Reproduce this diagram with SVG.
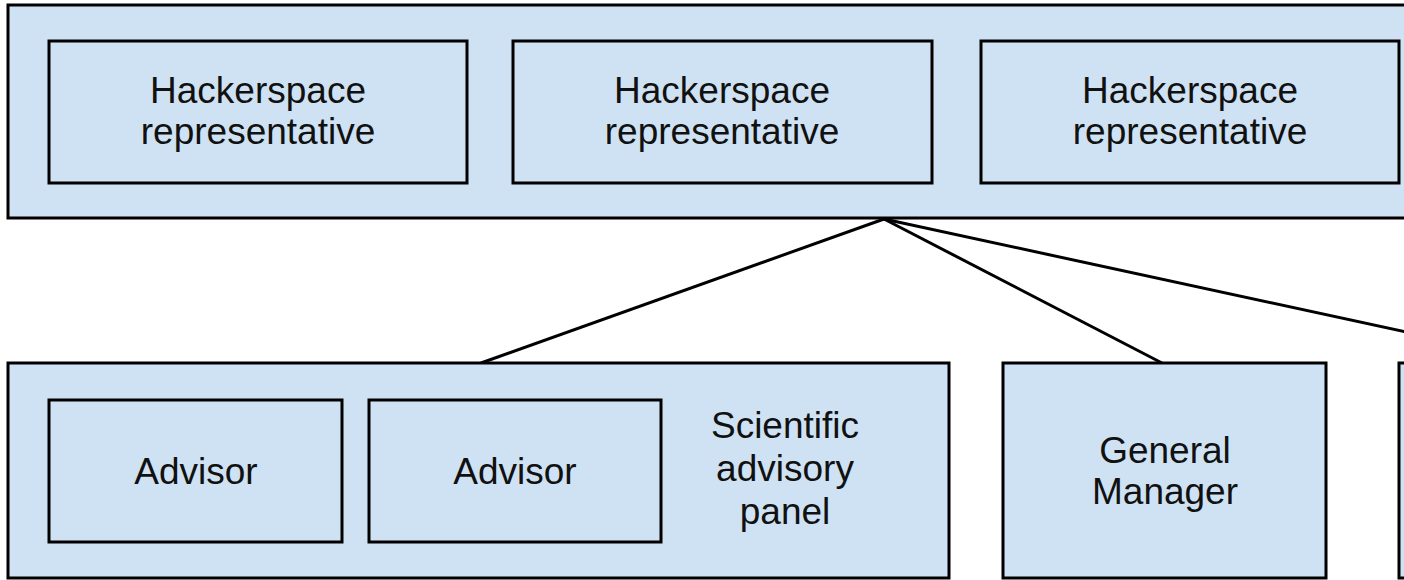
<svg xmlns="http://www.w3.org/2000/svg" width="1404" height="580" viewBox="0 0 1404 580">
<style>
.box{fill:#cfe2f3;stroke:#000;stroke-width:3}
.lbl{font-family:"Liberation Sans",Arial,sans-serif;font-size:37px;fill:#111;text-anchor:middle}
.conn{stroke:#000;stroke-width:3;fill:none}
</style>
<rect width="1404" height="580" fill="#fff"/>
<g id="board">
<rect class="box" x="8" y="5" width="1420" height="213"/>
</g>
<g id="rep1">
<rect class="box" x="49" y="41" width="418" height="142"/>
<text class="lbl" x="258" y="103">Hackerspace</text>
<text class="lbl" x="258" y="144">representative</text>
</g>
<g id="rep2">
<rect class="box" x="513" y="41" width="419" height="142"/>
<text class="lbl" x="722" y="103">Hackerspace</text>
<text class="lbl" x="722" y="144">representative</text>
</g>
<g id="rep3">
<rect class="box" x="981" y="41" width="418" height="142"/>
<text class="lbl" x="1190" y="103">Hackerspace</text>
<text class="lbl" x="1190" y="144">representative</text>
</g>
<g id="connectors">
<line class="conn" x1="884" y1="219" x2="481" y2="363"/>
<line class="conn" x1="884" y1="219" x2="1162" y2="363"/>
<line class="conn" x1="884" y1="219" x2="1420" y2="335"/>
</g>
<g id="panel">
<rect class="box" x="8" y="363" width="941" height="215"/>
<text class="lbl" x="785" y="438">Scientific</text>
<text class="lbl" x="785" y="481">advisory</text>
<text class="lbl" x="785" y="524">panel</text>
</g>
<g id="advisor1">
<rect class="box" x="49" y="400" width="293" height="142"/>
<text class="lbl" x="196" y="484">Advisor</text>
</g>
<g id="advisor2">
<rect class="box" x="369" y="400" width="292" height="142"/>
<text class="lbl" x="515" y="484">Advisor</text>
</g>
<g id="gm">
<rect class="box" x="1003" y="363" width="323" height="215"/>
<text class="lbl" x="1165" y="463">General</text>
<text class="lbl" x="1165" y="504">Manager</text>
</g>
<g id="other">
<rect class="box" x="1399" y="363" width="100" height="215"/>
</g>
</svg>
